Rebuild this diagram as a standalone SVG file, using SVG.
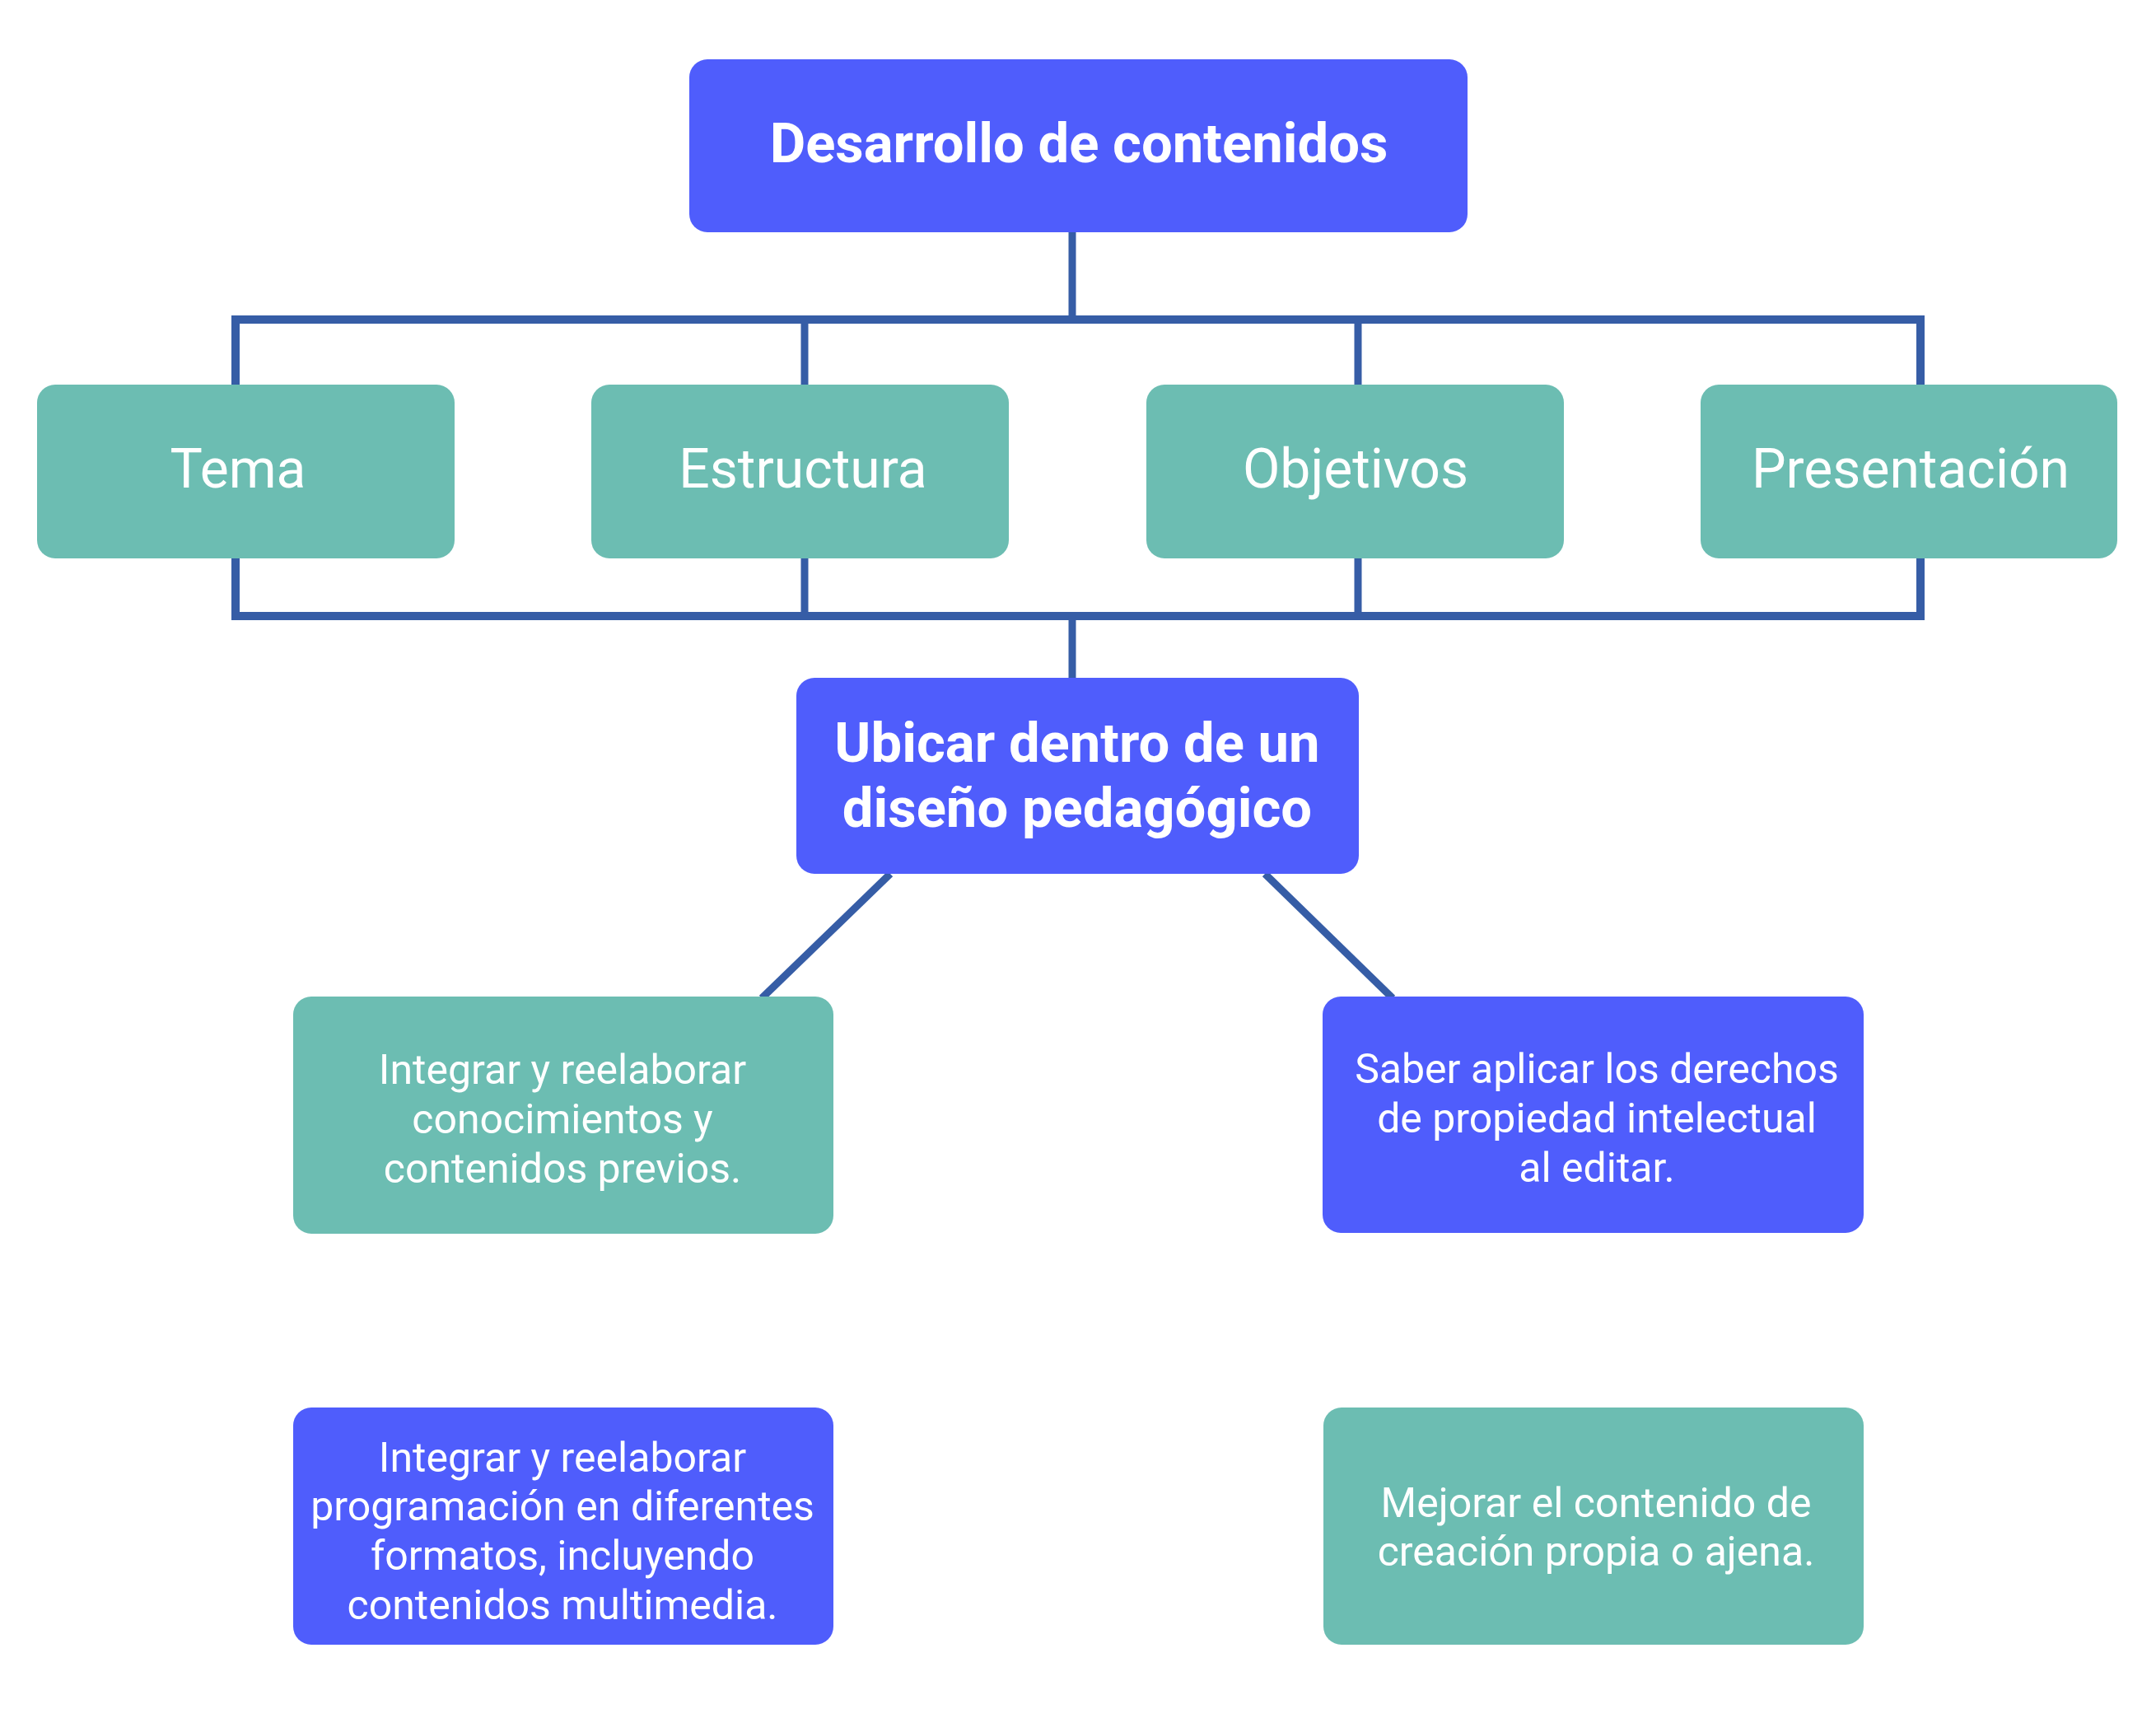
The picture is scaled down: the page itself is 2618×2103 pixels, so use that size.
<svg xmlns="http://www.w3.org/2000/svg" width="2618" height="2103" viewBox="0 0 2618 2103">
<style>
.blue{fill:#4F5DFC}
.teal{fill:#6CBDB2}
.t{font-family:Roboto,"Liberation Sans",sans-serif;fill:#FFFFFF;text-anchor:middle}
.b{font-weight:bold;font-size:67px}
.m{font-size:66px}
.s{font-size:50px}
.c{fill:none;stroke:#365DA6;stroke-linecap:butt;stroke-linejoin:miter}
</style>
<rect width="2618" height="2103" fill="#FFFFFF"/>
<g id="connectors">
<path class="c" stroke-width="9" d="M1302,282 V388"/>
<path class="c" stroke-width="10" d="M286,467 V388 H2332 V467"/>
<path class="c" stroke-width="9" d="M977,388 V467 M1649,388 V467"/>
<path class="c" stroke-width="10" d="M286,678 V748 H2332 V678"/>
<path class="c" stroke-width="9" d="M977,678 V748 M1649,678 V748"/>
<path class="c" stroke-width="9" d="M1302,748 V823"/>
<path class="c" stroke-width="9" d="M1081,1061 L925,1212"/>
<path class="c" stroke-width="9" d="M1536,1061 L1691,1212"/>
</g>
<g id="n-desarrollo">
<rect class="blue" x="837" y="72" width="945" height="210" rx="22"/>
<text class="t b" x="1310" y="197">Desarrollo de contenidos</text>
</g>
<g id="n-tema">
<rect class="teal" x="45" y="467" width="507" height="211" rx="22"/>
<text class="t m" x="289" y="592">Tema</text>
</g>
<g id="n-estructura">
<rect class="teal" x="718" y="467" width="507" height="211" rx="22"/>
<text class="t m" x="975" y="592">Estructura</text>
</g>
<g id="n-objetivos">
<rect class="teal" x="1392" y="467" width="507" height="211" rx="22"/>
<text class="t m" x="1646" y="592">Objetivos</text>
</g>
<g id="n-presentacion">
<rect class="teal" x="2065" y="467" width="506" height="211" rx="22"/>
<text class="t m" x="2320" y="592">Presentación</text>
</g>
<g id="n-ubicar">
<rect class="blue" x="967" y="823" width="683" height="238" rx="22"/>
<text class="t b" x="1308" y="925">Ubicar dentro de un</text>
<text class="t b" x="1308" y="1004">diseño pedagógico</text>
</g>
<g id="n-integrar1">
<rect class="teal" x="356" y="1210" width="656" height="288" rx="22"/>
<text class="t s" x="683" y="1316">Integrar y reelaborar</text>
<text class="t s" x="683" y="1376">conocimientos y</text>
<text class="t s" x="683" y="1436">contenidos previos.</text>
</g>
<g id="n-saber">
<rect class="blue" x="1606" y="1210" width="657" height="287" rx="22"/>
<text class="t s" x="1939" y="1315">Saber aplicar los derechos</text>
<text class="t s" x="1939" y="1375">de propiedad intelectual</text>
<text class="t s" x="1939" y="1435">al editar.</text>
</g>
<g id="n-integrar2">
<rect class="blue" x="356" y="1709" width="656" height="288" rx="22"/>
<text class="t s" x="683" y="1787">Integrar y reelaborar</text>
<text class="t s" x="683" y="1846">programación en diferentes</text>
<text class="t s" x="683" y="1906">formatos, incluyendo</text>
<text class="t s" x="683" y="1966">contenidos multimedia.</text>
</g>
<g id="n-mejorar">
<rect class="teal" x="1607" y="1709" width="656" height="288" rx="22"/>
<text class="t s" x="1938" y="1842">Mejorar el contenido de</text>
<text class="t s" x="1938" y="1901">creación propia o ajena.</text>
</g>
</svg>
